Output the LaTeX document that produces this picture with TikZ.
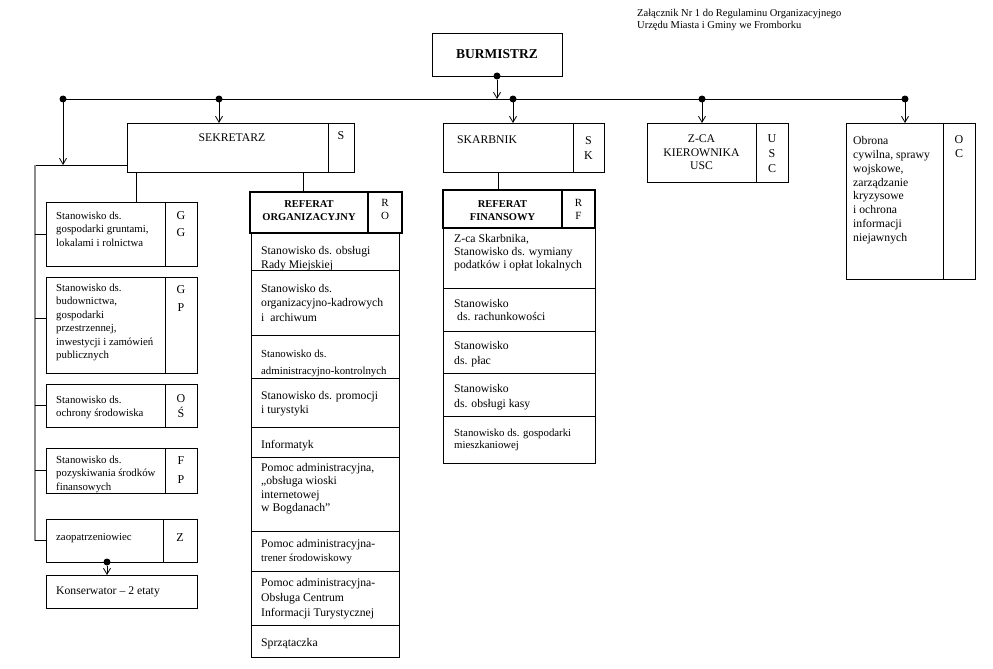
\documentclass[tikz,border=0pt]{standalone}
\usepackage{fontspec}
\setmainfont{Liberation Serif}
\usetikzlibrary{arrows.meta, positioning}

\begin{document}
\begin{tikzpicture}[
    x=1pt, y=-1pt,
    box/.style={rectangle, draw, line width=0.8pt, inner sep=0pt, outer sep=0pt, anchor=north west},
    refbox/.style={box, line width=2.6pt},
    txt/.style={inner sep=0pt, anchor=north west, align=left, font=\fontsize{11.7}{14.5}\selectfont},
    smalltxt/.style={txt, font=\fontsize{10.8}{13.5}\selectfont},
    codetxt/.style={inner sep=0pt, anchor=north, align=center, font=\fontsize{12}{15}\selectfont},
    reftxt/.style={inner sep=0pt, anchor=north, align=center, font=\fontsize{10.5}{13}\selectfont\bfseries},
    joint/.style={circle, fill, inner sep=0pt, minimum size=7pt},
    link/.style={line width=0.8pt},
    arrow/.style={link, -{Straight Barb[length=6pt, width=7pt]}}
]
\path[use as bounding box, fill=white] (0,0) rectangle (993,669);

% ===== HEADER =====
\node[txt, font=\fontsize{10.5}{12}\selectfont] (zal) at (637,9.5) {Załącznik Nr 1 do Regulaminu Organizacyjnego\\Urzędu Miasta i Gminy we Fromborku};
\node[box, anchor=center, minimum width=130pt, minimum height=43pt, font=\fontsize{13.5}{16}\selectfont\bfseries] (burm) at (497,54.5) {BURMISTRZ};

% ===== BUS =====
\coordinate (busL) at (63,99);
\coordinate (busS) at (219,99);
\coordinate (busK) at (513,99);
\coordinate (busU) at (702,99);
\coordinate (busR) at (905,99);

% ===== SEKRETARZ =====
\node[box, minimum width=201pt, minimum height=49pt] (sekr) at (127,123) {};
\node[box, minimum width=26pt, minimum height=49pt] (sekrc) at (328,123) {};
\node[txt, anchor=north] (sekrt) at (232,134) {SEKRETARZ};
\node[codetxt] (sekrct) at (341,131) {S};

% left column
\node[box, minimum width=119pt, minimum height=64pt] (gg) at (46,202) {};
\node[box, minimum width=32pt, minimum height=64pt] (ggc) at (165,202) {};
\node[smalltxt] (ggt) at (56,211.5) {Stanowisko ds.\\gospodarki gruntami,\\lokalami i rolnictwa};
\node[codetxt, font=\fontsize{12}{17}\selectfont] (ggct) at (181,211) {G\\G};

\node[box, minimum width=119pt, minimum height=96pt] (gp) at (46,277) {};
\node[box, minimum width=32pt, minimum height=96pt] (gpc) at (165,277) {};
\node[smalltxt] (gpt) at (56,283.5) {Stanowisko ds.\\budownictwa,\\gospodarki\\przestrzennej,\\inwestycji i zamówień\\publicznych};
\node[codetxt, font=\fontsize{12}{18}\selectfont] (gpct) at (181,285) {G\\P};

\node[box, minimum width=119pt, minimum height=43pt] (os) at (46,384) {};
\node[box, minimum width=32pt, minimum height=43pt] (osc) at (165,384) {};
\node[smalltxt] (ost) at (56,395.5) {Stanowisko ds.\\ochrony środowiska};
\node[codetxt] (osct) at (181,394) {O\\Ś};

\node[box, minimum width=119pt, minimum height=45pt] (fp) at (46,448) {};
\node[box, minimum width=32pt, minimum height=45pt] (fpc) at (165,448) {};
\node[smalltxt, font=\fontsize{10.8}{13.3}\selectfont] (fpt) at (56,456) {Stanowisko ds.\\pozyskiwania środków\\finansowych};
\node[codetxt, font=\fontsize{12}{19}\selectfont] (fpct) at (181,456) {F\\P};

\node[box, minimum width=117pt, minimum height=43pt] (zao) at (46,519) {};
\node[box, minimum width=34pt, minimum height=43pt] (zaoc) at (163,519) {};
\node[smalltxt] (zaot) at (56,533.5) {zaopatrzeniowiec};
\node[codetxt] (zaoct) at (180,533) {Z};

\node[box, minimum width=151pt, minimum height=33pt] (kons) at (46,575) {};
\node[txt] (konst) at (56,587) {Konserwator – 2 etaty};

% ===== REFERAT ORGANIZACYJNY =====
\node[refbox, minimum width=118pt, minimum height=41pt] (ro) at (250,192) {};
\node[refbox, minimum width=34pt, minimum height=41pt] (roc) at (368,192) {};
\node[reftxt] (rot) at (309,200.5) {REFERAT\\ORGANIZACYJNY};
\node[codetxt, font=\fontsize{11}{13}\selectfont] (roct) at (385,199) {R\\O};

\node[box, minimum width=148pt, minimum height=37pt] (ro1) at (251,233) {};
\node[txt, font=\fontsize{11.7}{14}\selectfont] (ro1t) at (261,246) {Stanowisko ds. obsługi\\Rady Miejskiej};
\node[box, minimum width=148pt, minimum height=65pt] (ro2) at (251,270) {};
\node[txt] (ro2t) at (261,284) {Stanowisko ds.\\organizacyjno-kadrowych\\i\ \ archiwum};
\node[box, minimum width=148pt, minimum height=43pt] (ro3) at (251,335) {};
\node[smalltxt, font=\fontsize{10.8}{16.5}\selectfont] (ro3t) at (261,350) {Stanowisko ds.\\administracyjno-kontrolnych};
\node[box, minimum width=148pt, minimum height=49pt] (ro4) at (251,378) {};
\node[txt, font=\fontsize{11.7}{14}\selectfont] (ro4t) at (261,391) {Stanowisko ds. promocji\\i turystyki};
\node[box, minimum width=148pt, minimum height=30pt] (ro5) at (251,427) {};
\node[txt] (ro5t) at (261,440) {Informatyk};
\node[box, minimum width=148pt, minimum height=74pt] (ro6) at (251,457) {};
\node[txt, font=\fontsize{11.7}{13.5}\selectfont] (ro6t) at (261,463) {Pomoc administracyjna,\\„obsługa wioski\\internetowej\\w Bogdanach”};
\node[box, minimum width=148pt, minimum height=40pt] (ro7) at (251,531) {};
\node[txt, font=\fontsize{11.7}{14}\selectfont] (ro7t) at (261,539) {Pomoc administracyjna-\\{\fontsize{10.8}{13.5}\selectfont trener środowiskowy}};
\node[box, minimum width=148pt, minimum height=54pt] (ro8) at (251,571) {};
\node[txt, font=\fontsize{11.7}{15}\selectfont] (ro8t) at (261,578) {Pomoc administracyjna-\\Obsługa Centrum\\Informacji Turystycznej};
\node[box, minimum width=148pt, minimum height=32pt] (ro9) at (251,625) {};
\node[txt] (ro9t) at (261,638) {Sprzątaczka};

% ===== SKARBNIK =====
\node[box, minimum width=130pt, minimum height=49pt] (skar) at (443,123) {};
\node[box, minimum width=31pt, minimum height=49pt] (skarc) at (573,123) {};
\node[txt] (skart) at (457,136) {SKARBNIK};
\node[codetxt] (skarct) at (588.5,136) {S\\K};

% ===== REFERAT FINANSOWY =====
\node[refbox, minimum width=119pt, minimum height=38pt] (rf) at (443,190) {};
\node[refbox, minimum width=33pt, minimum height=38pt] (rfc) at (562,190) {};
\node[reftxt] (rft) at (502.5,200.5) {REFERAT\\FINANSOWY};
\node[codetxt, font=\fontsize{11}{13}\selectfont] (rfct) at (578.5,199) {R\\F};

\node[box, minimum width=152pt, minimum height=60pt] (rf1) at (443,228) {};
\node[txt, font=\fontsize{11.7}{13}\selectfont] (rf1t) at (454,234) {Z-ca Skarbnika,\\Stanowisko ds. wymiany\\podatków i opłat lokalnych};
\node[box, minimum width=152pt, minimum height=43pt] (rf2) at (443,288) {};
\node[txt, font=\fontsize{11.7}{13}\selectfont] (rf2t) at (454,299) {Stanowisko\\\hspace*{3pt}ds. rachunkowości};
\node[box, minimum width=152pt, minimum height=42pt] (rf3) at (443,331) {};
\node[txt, font=\fontsize{11.7}{15}\selectfont] (rf3t) at (454,341) {Stanowisko\\ds. płac};
\node[box, minimum width=152pt, minimum height=43pt] (rf4) at (443,373) {};
\node[txt, font=\fontsize{11.7}{15}\selectfont] (rf4t) at (454,384) {Stanowisko\\ds. obsługi kasy};
\node[box, minimum width=152pt, minimum height=47pt] (rf5) at (443,416) {};
\node[smalltxt, font=\fontsize{10.8}{12.5}\selectfont] (rf5t) at (454,428.5) {Stanowisko ds. gospodarki\\mieszkaniowej};

% ===== Z-CA KIEROWNIKA USC =====
\node[box, minimum width=109pt, minimum height=59pt] (zca) at (647,123) {};
\node[box, minimum width=32pt, minimum height=59pt] (zcac) at (756,123) {};
\node[txt, anchor=north, align=center, font=\fontsize{11.7}{13.5}\selectfont] (zcat) at (701.5,135) {Z-CA\\KIEROWNIKA\\USC};
\node[codetxt] (zcact) at (772,134) {U\\S\\C};

% ===== OBRONA CYWILNA =====
\node[box, minimum width=97pt, minimum height=156pt] (oc) at (846,123) {};
\node[box, minimum width=32pt, minimum height=156pt] (occ) at (943,123) {};
\node[txt, font=\fontsize{11.7}{13.9}\selectfont] (oct) at (853,136) {Obrona\\cywilna, sprawy\\wojskowe,\\zarządzanie\\kryzysowe\\i ochrona\\informacji\\niejawnych};
\node[codetxt, font=\fontsize{12}{14}\selectfont] (occt) at (959,135) {O\\C};

% ===== CONNECTORS =====
\draw[link] (busL) -- (busR);
\node[joint] (jburm) at (burm.south) {};
\draw[arrow] (jburm) -- (jburm |- busL);
\foreach \p in {busL, busS, busK, busU, busR}
    \node[joint] (j\p) at (\p) {};
\draw[arrow] (busS) -- (busS |- sekr.north);
\draw[arrow] (busK) -- (busK |- skar.north);
\draw[arrow] (busU) -- (busU |- zca.north);
\draw[arrow] (busR) -- (busR |- oc.north);

% left bracket
\coordinate (lbus) at (35,165);
\draw[arrow] (busL) -- (busL |- lbus);
\draw[link] (sekr.west |- lbus) -- (lbus);
\draw[black!45, line width=1.5pt] (lbus) -- (lbus |- zao.west);
\foreach \b/\s in {gg/0, gp/7, os/0, fp/0, zao/0} {
    \coordinate (st) at ([yshift=\s]\b.west);
    \draw[link] (st -| lbus) -- (st);
}
\coordinate (s1) at ([xshift=9]sekr.south west);
\draw[link] (s1) -- (s1 |- gg.north);
\coordinate (zd) at ([xshift=2.5]zao.south);
\node[joint] (jzao) at (zd) {};
\draw[arrow] (jzao) -- (jzao |- kons.north);

% referaty
\coordinate (s2) at ([xshift=-6]ro.north);
\draw[link] (s2) -- (s2 |- sekr.south);
\coordinate (k2) at ([xshift=-4.5]rf.north);
\draw[link] (k2) -- (k2 |- skar.south);

\end{tikzpicture}
\end{document}
